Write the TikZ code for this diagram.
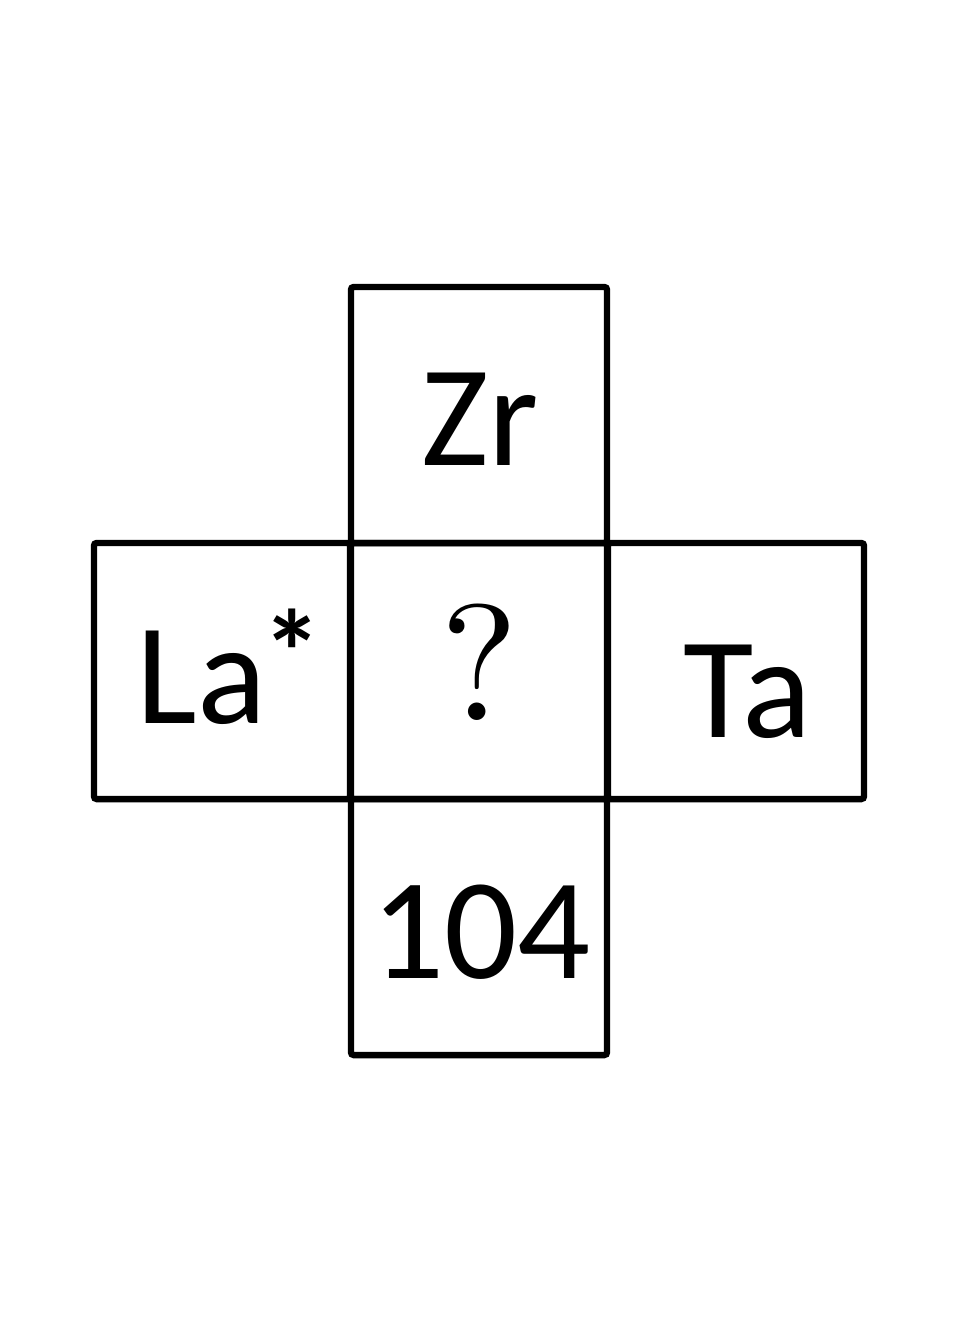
\documentclass[tikz,border=0pt]{standalone}
\usepackage{fontspec}
\setmainfont{Carlito}
\usepackage{graphicx}
\usetikzlibrary{positioning}

\tikzset{
  cell/.style={draw=black, line width=1.8pt, rounded corners=0.8pt,
               minimum size=2.56cm, inner sep=0pt, outer sep=0pt},
  elem/.style={font=\fontsize{41}{41}\selectfont, inner sep=0pt, anchor=base}
}

\begin{document}
\begin{tikzpicture}[x=0.01cm, y=-0.01cm]
        \useasboundingbox[fill=white] (0,0) rectangle (960,1344);
        % the five cells
        \node[cell] (mid) at (479,671) {};
        \node[cell] (up) at (479,415) {};
        \node[cell] (lft) at (222,671) {};
        \node[cell] (rgt) at (736,671) {};
        \node[cell] (dwn) at (479,927) {};
        % symbols
        \node[elem, anchor=base west] (la) at (136,723)
          {La\hspace{-0.04cm}\raisebox{0.29cm}{\fontsize{34}{34}\selectfont\bfseries *}};
        \node[elem] (zr) at (480,465) {Zr};
        \node[elem] (ta) at (748,737) {Ta};
        \node[elem] (num) at (481,978) {104};
        \node[elem] (unk) at (480,720) {\scalebox{4.7}{\normalsize$?$}};
\end{tikzpicture}
\end{document}
